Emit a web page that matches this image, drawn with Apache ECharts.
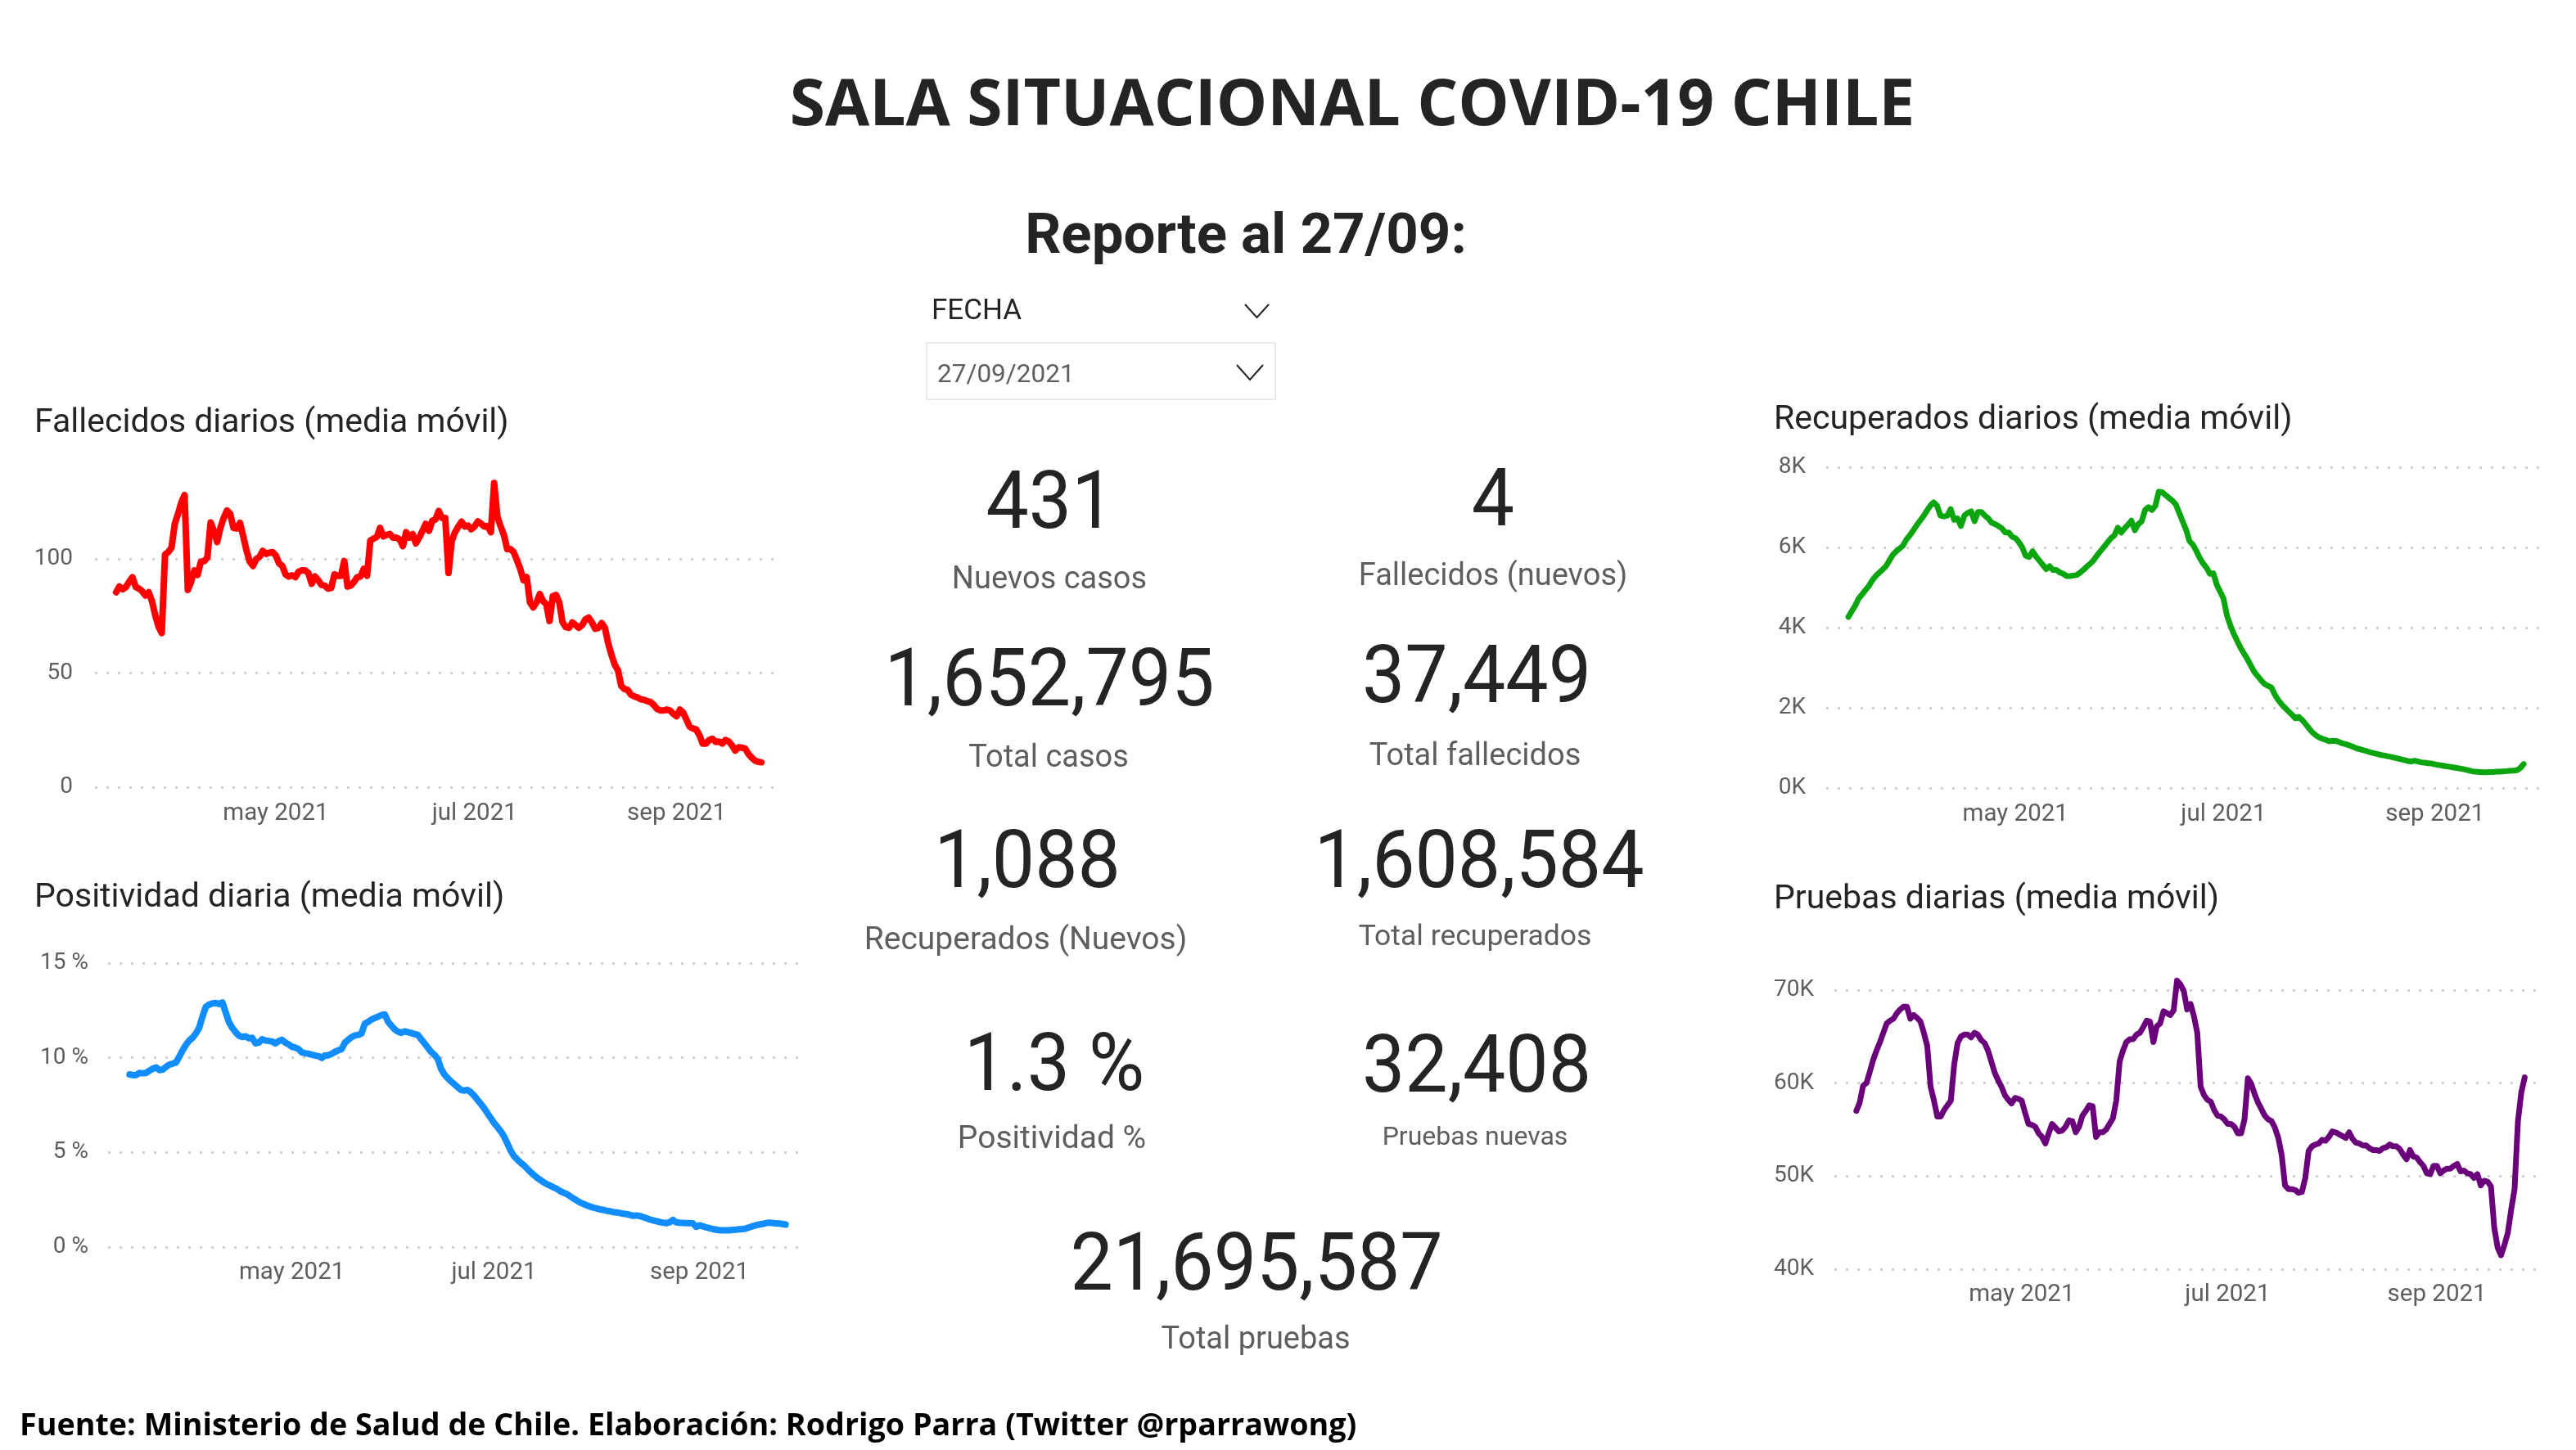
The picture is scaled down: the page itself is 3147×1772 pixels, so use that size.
<!DOCTYPE html>
<html>
<head>
<meta charset="utf-8">
<title>Sala situacional COVID-19 Chile</title>
<script src="https://cdn.jsdelivr.net/npm/echarts@6/dist/echarts.min.js"></script>
<style>
html, body { margin: 0; padding: 0; background: #fff; }
#main { width: 3147px; height: 1772px; }
</style>
</head>
<body>
<div id="main"></div>
<script>
// valores diarios, del 13/03/2021 al 27/09/2021
var fallecidos = [85.4,87.9,86.7,87.7,90,92,87.7,87,85.8,84,85.4,81.5,75.3,70.4,67.5,101.9,103,105,115.4,119.8,124.7,128,86.4,90,95,93,98.8,99,100.6,116,112.3,107.4,113.6,117.9,121.2,119.8,113.6,113.3,115.8,110,103.7,98.8,96.9,100,100.9,103.5,102.2,102.7,103,101.5,98.1,96.9,93.2,92.3,92.8,92,94.4,95,95,93.8,89.1,92.3,90.7,88.6,88.3,87,87.3,93.2,92.6,92.6,99.1,87.9,88.3,89.9,92,92.3,95.7,92.6,108,108.9,109.6,113.6,109.9,110.5,110.9,109.3,109.3,108.6,105.6,111.7,109.3,110.9,106.8,109.3,112.3,115.4,112.3,116.7,117.3,121,117.9,117.9,93.8,108,111.7,114.2,116.3,114.2,114.6,113,114.2,116.4,115.4,114.2,114.4,111.7,133.3,118.5,114.2,110.5,104.3,104.3,103,99.4,95.7,90.7,92,80.9,78.8,80.9,84.6,81.5,80.2,72.8,83.7,84.2,80.9,72.2,70.1,69.8,72.2,71,69.8,71,73.5,74.3,72.2,69.4,69.8,71.9,69.8,63,58,53.7,51.2,44.4,43,42.6,40.5,39.8,39.3,38.5,38.3,37.7,37.3,36,34.3,33.6,33.6,34,33.6,32.1,31.1,34,32.7,29.6,26.5,25.7,25.3,22.8,19.1,19.1,20.7,21.2,19.8,20,19.1,20.7,20,18.3,16,17.5,17.3,17,14.6,13,11.7,11.1,10.9];
var positividad = [9.12,9.08,9.09,9.2,9.18,9.2,9.32,9.42,9.49,9.35,9.38,9.52,9.64,9.69,9.75,10.06,10.39,10.68,10.91,11.06,11.28,11.58,12.17,12.69,12.81,12.87,12.89,12.84,12.92,12.4,11.88,11.58,11.35,11.16,11.1,11.13,11.03,11.06,10.76,10.8,10.98,10.91,10.89,10.86,10.76,10.88,10.95,10.8,10.71,10.58,10.54,10.46,10.28,10.24,10.21,10.16,10.12,10.09,9.99,10.13,10.13,10.21,10.31,10.39,10.46,10.8,10.95,11.09,11.18,11.21,11.28,11.8,11.9,12.02,12.1,12.17,12.25,12.29,11.9,11.7,11.5,11.38,11.32,11.4,11.35,11.31,11.25,11.21,10.98,10.76,10.54,10.31,10.16,9.94,9.42,9.12,8.93,8.75,8.6,8.45,8.3,8.27,8.3,8.18,8,7.78,7.56,7.34,7.07,6.82,6.56,6.34,6.12,5.85,5.48,5.1,4.81,4.63,4.46,4.32,4.14,3.96,3.81,3.66,3.54,3.42,3.32,3.24,3.15,3.07,2.95,2.87,2.8,2.68,2.56,2.46,2.35,2.28,2.2,2.14,2.08,2.04,1.99,1.96,1.92,1.89,1.85,1.83,1.8,1.76,1.74,1.7,1.65,1.67,1.64,1.58,1.52,1.46,1.41,1.37,1.32,1.29,1.26,1.31,1.43,1.31,1.29,1.28,1.26,1.26,1.25,1.07,1.15,1.1,1.04,1,0.95,0.92,0.89,0.89,0.89,0.89,0.91,0.92,0.94,0.95,0.98,1.04,1.1,1.15,1.19,1.22,1.26,1.29,1.28,1.25,1.24,1.22,1.19];
var recuperados = [4267,4407,4548,4723,4828,4934,5039,5179,5285,5369,5446,5530,5670,5811,5902,5972,6043,6197,6302,6421,6548,6667,6779,6913,7039,7123,7039,6793,6772,6793,6955,6688,6723,6534,6793,6864,6899,6653,6885,6885,6793,6723,6618,6583,6534,6478,6372,6372,6267,6232,6127,6000,5790,5762,5902,5776,5670,5565,5460,5530,5439,5439,5376,5341,5285,5285,5299,5313,5376,5446,5530,5600,5692,5811,5916,6021,6127,6232,6302,6492,6372,6478,6569,6667,6428,6583,6653,6934,7004,6934,7039,7390,7376,7306,7235,7165,7074,6864,6653,6442,6162,6071,5916,5741,5600,5495,5341,5355,5074,4899,4723,4302,4056,3846,3670,3495,3355,3214,3053,2898,2793,2688,2597,2548,2512,2337,2197,2091,2000,1916,1832,1740,1775,1705,1600,1495,1390,1319,1263,1228,1200,1165,1179,1172,1144,1109,1088,1060,1025,990,968,940,919,891,870,849,828,814,793,779,758,737,716,695,674,660,681,660,639,632,618,611,590,575,561,547,533,519,505,491,477,456,435,414,407,400,393,393,400,400,407,407,414,421,428,435,442,498,597];
var pruebasMiles = [57,57.9,59.7,60,61.2,62.5,63.5,64.4,65.4,66.4,66.7,66.9,67.5,67.9,68.2,68.2,66.9,67.3,67,66.6,65.4,64,59.6,58.1,56.4,56.4,57.1,57.6,58.1,62,64.3,65,65.2,65.2,64.9,65.4,65.2,64.6,64.3,63.5,62.3,61.1,60.3,59.6,58.7,58.2,57.8,58.4,58.3,58.1,56.8,55.6,55.5,55.3,54.6,54.2,53.5,54.6,55.6,55.2,54.8,54.9,55.3,56,55.9,54.7,55.3,56.5,57,57.6,57.5,54.2,54.7,54.7,55,55.6,56.2,58.1,62.3,63.5,64.4,64.7,64.7,65.2,65.4,66,66.7,66.6,64.4,66.1,66.4,67.7,67.5,67.3,67.8,71,70.6,69.9,67.9,68.5,67.2,65.4,59.6,58.7,58.2,58,57.1,56.5,56.4,56.1,55.6,55.6,55.3,54.6,54.6,56.1,60.5,59.9,58.8,57.9,57.2,56.5,56.1,55.9,55.2,54.1,52.3,49,48.6,48.6,48.5,48.2,48.3,49.8,52.7,53.2,53.4,53.5,53.9,53.8,54.2,54.8,54.7,54.5,54.3,54.1,54.7,54,53.6,53.5,53.3,53.3,53,52.8,52.8,52.7,53,53.1,53.4,53.2,53.2,52.9,52.3,51.8,52.8,52.1,52,51.5,51.1,50.3,50.2,51.1,51.1,50.3,50.6,50.8,50.8,51.1,51.3,50.5,50.6,50.3,50.2,49.8,50.2,49,49.5,49.4,48.9,44.4,42.3,41.5,42.6,43.9,46.4,48.6,55.9,59,60.6];

// dias contados desde el 13/03/2021
var mesesEtiquetas = ['may 2021', 'jul 2021', 'sep 2021'];
var mesesDias = [49, 110, 172];

var titulosGraficos = ['Fallecidos diarios (media móvil)', 'Positividad diaria (media móvil)', 'Recuperados diarios (media móvil)', 'Pruebas diarias (media móvil)'];
var kpiValores = ['431', '4', '1,652,795', '37,449', '1,088', '1,608,584', '1.3 %', '32,408', '21,695,587'];
var kpiEtiquetas = ['Nuevos casos', 'Fallecidos (nuevos)', 'Total casos', 'Total fallecidos', 'Recuperados (Nuevos)', 'Total recuperados', 'Positividad %', 'Pruebas nuevas', 'Total pruebas'];

var tituloPrincipal = 'SALA SITUACIONAL COVID-19 CHILE';
var subtitulo = 'Reporte al 27/09:';
var fuente = 'Fuente: Ministerio de Salud de Chile. Elaboración: Rodrigo Parra (Twitter @rparrawong)';
var filtroNombre = 'FECHA';
var filtroValor = '27/09/2021';

function serieDiaria(valores) {
    return valores.map(function (v, i) {
        return [i, v];
    });
}

var chart = echarts.init(document.getElementById('main'));

var FUENTE = 'Roboto, sans-serif';

var cajas = [
    { left: 116, width: 836, top: 585.4, height: 376.6 },
    { left: 132, width: 850, top: 1177, height: 347 },
    { left: 2231, width: 875, top: 571, height: 392 },
    { left: 2241, width: 866, top: 1187, height: 364 }
];
var ejesY = [
    { min: 0, max: 135, interval: 50, margin: 27, fmt: '{value}' },
    { min: 0, max: 15, interval: 5, margin: 24, fmt: '{value} %' },
    { min: 0, max: 8000, interval: 2000, margin: 25, fmt: function (v) { return (v / 1000) + 'K'; } },
    { min: 40, max: 72, interval: 10, margin: 25, fmt: '{value}K' }
];
var margenX = [18, 17, 18, 17];
var colores = ['#ff0000', '#118dff', '#0ba60f', '#6b007b'];
var anchos = [8, 8, 7, 7];
var datos = [fallecidos, positividad, recuperados, pruebasMiles];

var grids = [], xAxes = [], yAxes = [], series = [];
for (var i = 0; i < 4; i++) {
    grids.push(cajas[i]);
    xAxes.push({
        type: 'value',
        gridIndex: i,
        min: -6.5,
        max: 203.5,
        axisLine: { show: false },
        axisTick: { show: false },
        splitLine: { show: false },
        axisLabel: {
            customValues: mesesDias,
            margin: margenX[i],
            fontFamily: FUENTE,
            fontSize: 29.5,
            color: '#605e5c',
            hideOverlap: false,
            formatter: function (v) {
                return mesesEtiquetas[mesesDias.indexOf(v)];
            }
        }
    });
    yAxes.push({
        type: 'value',
        gridIndex: i,
        min: ejesY[i].min,
        max: ejesY[i].max,
        interval: ejesY[i].interval,
        axisLine: { show: false },
        axisTick: { show: false },
        splitLine: {
            show: true,
            showMaxLine: i == 1 || i == 2,
            lineStyle: { color: '#cfcfcf', width: 3, type: [3, 11] }
        },
        axisLabel: {
            margin: ejesY[i].margin,
            padding: [4, 0, 0, 0],
            fontFamily: FUENTE,
            fontSize: 28,
            color: '#605e5c',
            showMaxLabel: i == 1 || i == 2,
            formatter: ejesY[i].fmt
        }
    });
    series.push({
        type: 'line',
        xAxisIndex: i,
        yAxisIndex: i,
        data: serieDiaria(datos[i]),
        showSymbol: false,
        clip: false,
        lineStyle: { color: colores[i], width: anchos[i], join: 'round', cap: 'round' }
    });
}

function texto(str, x, y, size, color, opts) {
    opts = opts || {};
    return {
        type: 'text',
        x: x,
        y: y,
        scaleX: opts.scaleX || 1,
        silent: true,
        style: {
            text: str,
            x: 0,
            y: 0,
            align: opts.align || 'center',
            verticalAlign: 'middle',
            fontFamily: opts.font || FUENTE,
            fontWeight: opts.weight || 'normal',
            fontSize: size,
            fill: color
        }
    };
}

function chevron(x1, x2, y1, y2) {
    return {
        type: 'polyline',
        silent: true,
        shape: { points: [[x1, y1], [(x1 + x2) / 2, y2], [x2, y1]] },
        style: { stroke: '#252423', lineWidth: 2, fill: null }
    };
}

var posTitulos = [[42, 518], [42, 1098], [2167, 514], [2167, 1100]];
var posValores = [[1283, 620], [1824, 617], [1282, 837], [1804, 833], [1255, 1059], [1807, 1059], [1288, 1307], [1804, 1309], [1535, 1551]];
var posEtiquetas = [[1282, 709], [1824, 705], [1281, 927], [1802, 925], [1253, 1150], [1802, 1146], [1285, 1393], [1802, 1391], [1534, 1638]];
var tamEtiquetas = [38, 38, 38, 38, 39, 35.5, 39, 32, 38];

var graficos = [
    texto(tituloPrincipal, 1652, 131, 78.6, '#252423', { weight: 'bold', font: '"Open Sans", sans-serif' }),
    texto(subtitulo, 1522, 292, 69, '#252423', { weight: 'bold' }),
    texto(fuente, 24, 1743, 37.7, '#000000', { weight: 'bold', align: 'left', font: '"Open Sans", sans-serif' }),
    texto(filtroNombre, 1138, 381, 35, '#252423', { align: 'left' }),
    chevron(1521, 1550, 372, 388),
    {
        type: 'rect',
        silent: true,
        shape: { x: 1132, y: 419, width: 426, height: 69 },
        style: { fill: '#ffffff', stroke: '#eaeaea', lineWidth: 2 }
    },
    texto(filtroValor, 1145, 459, 31.5, '#605e5c', { align: 'left' }),
    chevron(1511, 1543, 446, 464)
];
titulosGraficos.forEach(function (t, i) {
    graficos.push(texto(t, posTitulos[i][0], posTitulos[i][1], 41, '#252423', { align: 'left' }));
});
kpiValores.forEach(function (t, i) {
    graficos.push(texto(t, posValores[i][0], posValores[i][1], 98, '#252423', { scaleX: 0.95 }));
    graficos.push(texto(kpiEtiquetas[i], posEtiquetas[i][0], posEtiquetas[i][1], tamEtiquetas[i], '#605e5c'));
});

option = {
    animation: false,
    backgroundColor: '#ffffff',
    grid: grids,
    xAxis: xAxes,
    yAxis: yAxes,
    series: series,
    graphic: graficos
};
chart.setOption(option);
</script>
</body>
</html>
